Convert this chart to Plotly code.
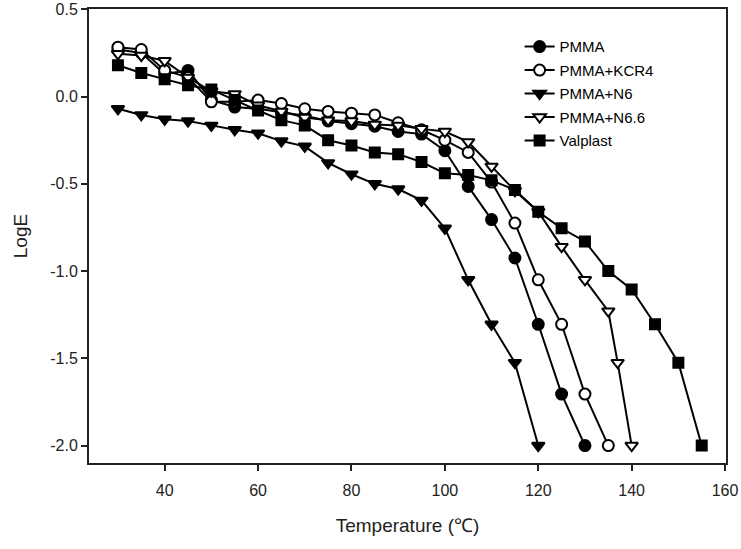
import plotly.graph_objects as go

# Temperatures (°C)
temp_pmma = [30, 35, 40, 45, 50, 55, 60, 65, 70, 75, 80, 85, 90, 95, 100, 105, 110, 115, 120, 125, 130]
temp_kcr4 = [30, 35, 40, 45, 50, 55, 60, 65, 70, 75, 80, 85, 90, 95, 100, 105, 110, 115, 120, 125, 130, 135]
temp_n6 = [30, 35, 40, 45, 50, 55, 60, 65, 70, 75, 80, 85, 90, 95, 100, 105, 110, 115, 120]
temp_n66 = [30, 35, 40, 45, 50, 55, 60, 65, 70, 75, 80, 85, 90, 95, 100, 105, 110, 115, 120, 125, 130, 135, 137, 140]
temp_valplast = [30, 35, 40, 45, 50, 55, 60, 65, 70, 75, 80, 85, 90, 95, 100, 105, 110, 115, 120, 125, 130, 135, 140, 145, 150, 155]

# LogE values
loge_pmma = [0.27, 0.25, 0.13, 0.15, -0.02, -0.06, -0.07, -0.09, -0.11, -0.14, -0.155, -0.17, -0.20, -0.215,
             -0.31, -0.515, -0.705, -0.925, -1.305, -1.705, -2.0]
loge_kcr4 = [0.283, 0.27, 0.15, 0.11, -0.03, -0.03, -0.02, -0.04, -0.07, -0.085, -0.095, -0.105, -0.15, -0.19,
             -0.25, -0.32, -0.49, -0.725, -1.05, -1.305, -1.705, -2.0]
loge_n6 = [-0.07, -0.105, -0.13, -0.14, -0.165, -0.19, -0.21, -0.255, -0.285, -0.38, -0.445, -0.5, -0.53, -0.595,
           -0.755, -1.05, -1.305, -1.525, -2.0]
loge_n66 = [0.245, 0.235, 0.205, 0.11, 0.03, 0.015, -0.05, -0.085, -0.12, -0.135, -0.14, -0.16, -0.165, -0.185,
            -0.2, -0.26, -0.40, -0.54, -0.66, -0.86, -1.05, -1.23, -1.525, -2.0]
loge_valplast = [0.18, 0.135, 0.10, 0.065, 0.04, -0.02, -0.08, -0.135, -0.165, -0.25, -0.28, -0.32, -0.33, -0.375,
                 -0.44, -0.45, -0.48, -0.535, -0.66, -0.755, -0.83, -1.0, -1.105, -1.305, -1.525, -2.0]

# Tick labels
x_tickvals = [40, 60, 80, 100, 120, 140, 160]
y_tickvals = [0.5, 0.0, -0.5, -1.0, -1.5, -2.0]
y_ticktext = ["0.5", "0.0", "-0.5", "-1.0", "-1.5", "-2.0"]

series = [
    ("PMMA", temp_pmma, loge_pmma, "circle", "black"),
    ("PMMA+KCR4", temp_kcr4, loge_kcr4, "circle", "white"),
    ("PMMA+N6", temp_n6, loge_n6, "triangle-down", "black"),
    ("PMMA+N6.6", temp_n66, loge_n66, "triangle-down", "white"),
    ("Valplast", temp_valplast, loge_valplast, "square", "black"),
]

fig = go.Figure()
for name, xs, ys, sym, fill in series:
    fig.add_trace(go.Scatter(
        x=xs, y=ys, name=name, legendgroup=name, mode="lines+markers",
        line=dict(color="black", width=2),
        marker=dict(symbol=sym, size=11 if sym != "square" else 10, color=fill,
                    line=dict(color="black", width=2)),
    ))

FONT = "Liberation Sans, Arial"
axis_common = dict(
    showline=True, linecolor="#222", linewidth=2, mirror=True,
    ticks="outside", ticklen=6, tickwidth=2, tickcolor="#222",
    showgrid=False, zeroline=False, automargin=False,
    tickfont=dict(family=FONT, size=16, color="#222"),
)

fig.update_xaxes(range=[23.8, 160.2], tickvals=x_tickvals, ticklabelstandoff=6,
                 title=dict(text="Temperature (℃)", font=dict(family=FONT, size=19, color="#222"),
                            standoff=20),
                 **axis_common)
fig.update_yaxes(range=[-2.1, 0.502], tickvals=y_tickvals, ticktext=y_ticktext,
                 title=dict(text="LogE", font=dict(family=FONT, size=19, color="#222"),
                            standoff=18),
                 **axis_common)

fig.update_layout(
    width=741, height=549,
    margin=dict(l=89, r=15, t=9, b=86),
    plot_bgcolor="white", paper_bgcolor="white",
    legend=dict(x=0.676, y=0.953, xanchor="left", yanchor="top",
                font=dict(family=FONT, size=15, color="black"),
                tracegroupgap=1, bgcolor="rgba(0,0,0,0)"),
)

fig.write_html("out.html", config={"displayModeBar": False},
               post_script="document.body.style.margin='0';")
